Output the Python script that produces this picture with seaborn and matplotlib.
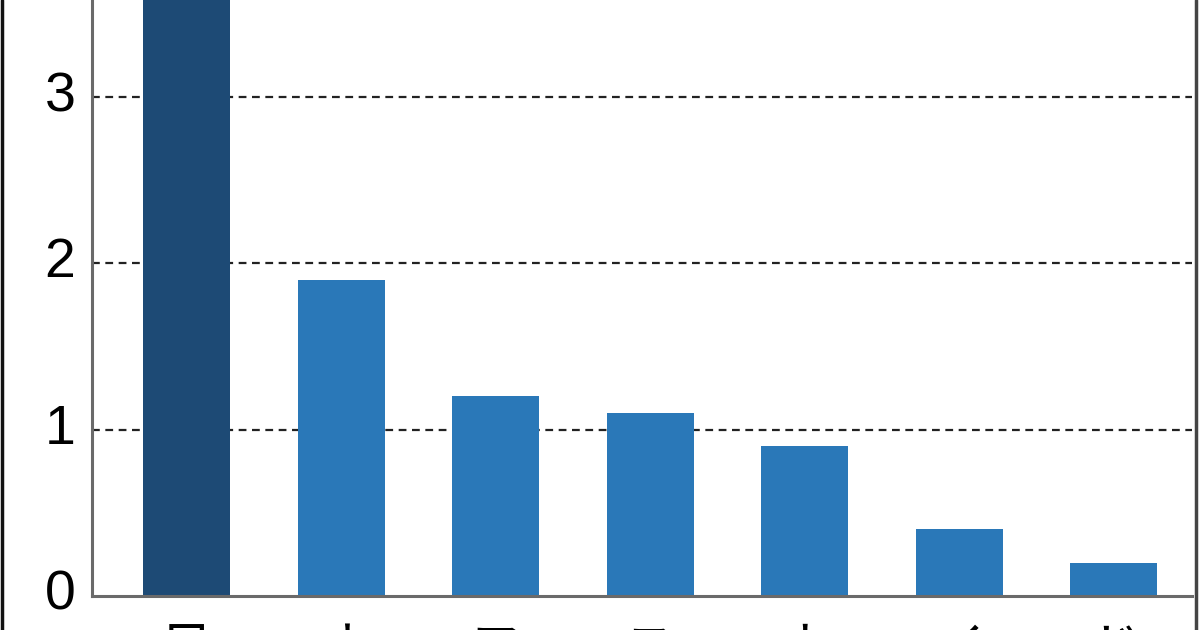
import matplotlib
matplotlib.use("Agg")
import matplotlib.pyplot as plt
import matplotlib.transforms as mtransforms
import seaborn as sns
from matplotlib.lines import Line2D

categories = ["日本", "オランダ", "フランス", "スイス", "ホンコン", "イギリス", "ドイツ"]
values = [4.4, 1.9, 1.2, 1.1, 0.9, 0.4, 0.2]
bar_colors = ["#1d4a75", "#2a78b8", "#2a78b8", "#2a78b8", "#2a78b8", "#2a78b8", "#2a78b8"]
yticks = [0, 1, 2, 3]

sns.set_style("white")
plt.rcParams["font.family"] = ["Liberation Sans", "Noto Sans CJK JP", "DejaVu Sans"]
plt.rcParams["text.color"] = "black"

fig = plt.figure(figsize=(12, 6.3), dpi=100)
ax = fig.add_axes([92 / 1200, 1 - 596 / 630, 1100 / 1200, 596 / 630])

sns.barplot(x=categories, y=values, hue=categories, palette=bar_colors, legend=False,
            width=0.563, saturation=1, ax=ax, edgecolor="none", zorder=3)

ax.set_ylim(0, 3.584)
ax.set_xlim(-0.612, 6.508)
ax.set_yticks(yticks)
ax.set_yticklabels([str(t) for t in yticks], fontsize=40, family=["Liberation Sans"], color="black")
# Japanese vertical labels (one character per line)
ax.set_xticks(range(len(categories)))
ax.set_xticklabels(["\n".join(c) for c in categories], fontsize=38,
                   family=["Noto Sans CJK JP", "DejaVu Sans"], color="black",
                   va="top", linespacing=1.0)
ax.set_xlabel("")
ax.set_ylabel("")

for t in yticks[1:]:
    ax.axhline(t, color="#222222", lw=1.6, ls=(0, (3.5, 2.5)), zorder=1)

for side in ["top", "right"]:
    ax.spines[side].set_visible(False)
for side in ["left", "bottom"]:
    ax.spines[side].set_color("#6a6a6a")
    ax.spines[side].set_linewidth(2.2)
    ax.spines[side].set_zorder(4)

ax.tick_params(axis="y", direction="in", length=19, width=2, color="#555555", pad=12)
ax.tick_params(axis="x", length=0, pad=19)

shift = mtransforms.ScaledTranslation(0, 0.06, fig.dpi_scale_trans)
for tick in ax.yaxis.get_major_ticks():
    tick.label1.set_transform(tick.label1.get_transform() + shift)

fig.add_artist(Line2D([0.0015, 0.0015], [0, 1], color="#111111", lw=2.5, transform=fig.transFigure))
fig.add_artist(Line2D([0.9965, 0.9965], [0, 1], color="#444444", lw=2.5, transform=fig.transFigure))

fig.savefig("out.png", dpi=100)
